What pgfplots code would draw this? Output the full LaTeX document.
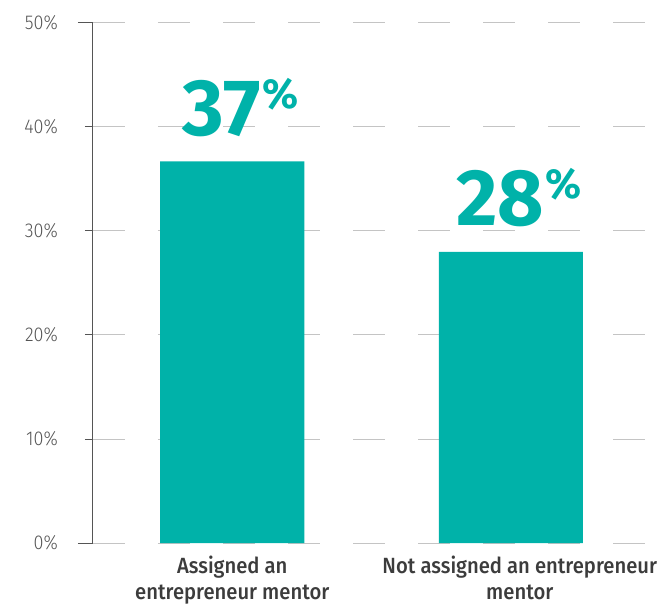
\documentclass[border=0pt]{standalone}
\usepackage{pgfplots}
\pgfplotsset{compat=1.18}
\usepackage{fontspec}
\setmainfont{Fira Sans}[FakeStretch=0.9]
\newfontfamily\lightfont{Fira Sans Light}[FakeStretch=0.9]
\newfontfamily\medfont{Fira Sans Medium}[FakeStretch=0.92]
\newfontfamily\bigfont{Fira Sans Bold}
\definecolor{teal1}{HTML}{00B2A9}
\definecolor{axgray}{HTML}{555555}
\definecolor{gridgray}{HTML}{C4C4C4}
\definecolor{labgray}{HTML}{3C3C3C}
\begin{document}
\begin{tikzpicture}
\useasboundingbox (-93pt,-62pt) rectangle (568pt,543pt);
\begin{axis}[
  at={(0pt,0pt)}, anchor=south west,
  scale only axis, width=557pt, height=520pt,
  xmin=-0.5, xmax=1.5, ymin=0, ymax=50,
  ybar, bar width=144pt, bar shift=0pt,
  separate axis lines,
  axis x line=bottom, axis y line=left,
  x axis line style={draw=none},
  y axis line style={draw=axgray, line width=1pt, -},
  xtick={0},
  xticklabels={{Assigned an\\entrepreneur mentor}},
  extra x ticks={1},
  extra x tick labels={{Not assigned an entrepreneur\\mentor}},
  extra x tick style={xticklabel style={xshift=9pt}, xtick style={draw=none}},
  xtick style={draw=none},
  xticklabel style={align=center, font=\medfont\fontsize{22}{26}\selectfont, text=labgray, anchor=north, inner sep=0pt, yshift=-5pt},
  ytick={10,20,30,40},
  extra y ticks={0,50},
  extra y tick style={major tick length=15pt, ymajorgrids=true, yticklabel style={xshift=7pt}},
  major tick length=8pt,
  tick align=outside,
  ytick style={draw=axgray, line width=1pt},
  /pgf/number format/assume math mode=true,
  yticklabel={\pgfmathprintnumber{\tick}\%},
  yticklabel style={font=\lightfont\fontsize{20}{20}\selectfont, text=axgray, anchor=east, inner sep=0pt, xshift=-27pt},
  ymajorgrids=true,
  grid style={draw=gridgray, line width=1pt, dash pattern=on 32pt off 33pt},
  point meta=explicit symbolic,
  nodes near coords={\bigfont\fontsize{80}{80}\selectfont\pgfplotspointmeta\kern1pt\raisebox{27pt}{\fontsize{42}{42}\selectfont\%}},
  every node near coord/.append style={anchor=base, yshift=26pt, xshift=8pt, text=teal1, inner sep=0pt},
]
\addplot[fill=teal1, draw=none] coordinates {(0,36.7) [37] (1,28) [28]};
\end{axis}
\end{tikzpicture}
\end{document}
